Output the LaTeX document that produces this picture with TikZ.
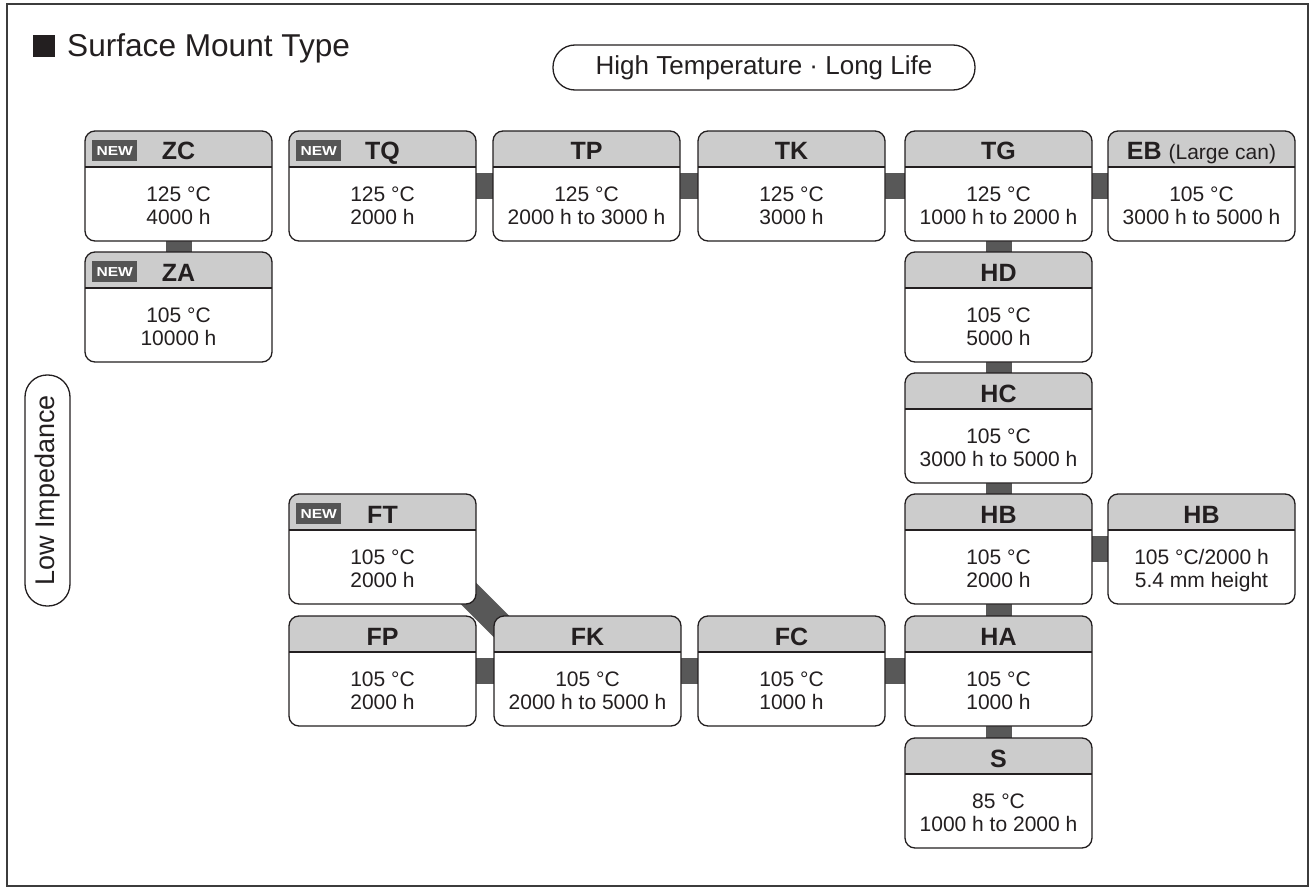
\documentclass[tikz,border=0pt]{standalone}
\usepackage{graphicx}
\usepackage{fontspec}
\setmainfont{Liberation Sans}
\usetikzlibrary{backgrounds,calc}
\definecolor{txt}{RGB}{35,31,32}
\definecolor{hdr}{RGB}{204,204,204}
\definecolor{conc}{RGB}{88,88,88}
\definecolor{badge}{RGB}{85,85,85}
\definecolor{frm}{RGB}{60,60,60}
\tikzset{
 cbox/.style={rectangle, minimum width=187pt, minimum height=110pt, inner sep=0pt, outer sep=0pt, fill=white, rounded corners=10pt},
 bord/.style={draw=txt, line width=1.3pt, rounded corners=10pt},
 ttl/.style={font=\fontsize{25}{30}\selectfont\bfseries, text=txt, inner sep=0pt},
 bod/.style={font=\fontsize{21}{24}\selectfont, text=txt, inner sep=0pt},
 newb/.style={fill=badge, text=white, font=\fontsize{13}{14}\selectfont\bfseries, minimum width=45pt, minimum height=21pt, inner sep=0pt},
 conn/.style={draw=conc, line width=26pt},
 pill/.style={draw=txt, line width=1.3pt, rounded corners=22pt, text=txt, inner sep=0pt},
}
\newcommand{\mkbox}[7]{%
 \node[cbox] (#1) at ({#2+93.5},{#3+55}) {};
 \begin{scope}
 \clip[rounded corners=10pt] (#1.north west) rectangle (#1.south east);
 \fill[hdr] (#1.north west) rectangle ([yshift=-36pt]#1.north east);
 \end{scope}
 \draw[txt, line width=1.3pt] ([yshift=-36pt]#1.north west) -- ([yshift=-36pt]#1.north east);
 \draw[bord] (#1.north west) rectangle (#1.south east);
 \node[ttl, anchor=base] (#1-t) at ({#2+93.5},{#3+29}) {#4};
 \node[bod, anchor=base] (#1-a) at ({#2+93.5},{#3+70}) {#5};
 \node[bod, anchor=base] (#1-b) at ({#2+93.5},{#3+93}) {#6};
 \ifnum#7=1 \node[newb, anchor=north west] (#1-n) at ({#2+7},{#3+9}) {\scalebox{1.2}[1]{NEW}};\fi
}
\begin{document}
\begin{tikzpicture}[x=1pt, y=-1pt]
\useasboundingbox (0,0) rectangle (1315,888);
\draw[frm, line width=2pt] (7,4) rectangle (1308,886);
% title
\node[fill=txt, minimum size=22pt, inner sep=0pt] (sq) at (44,46) {};
\node[font=\fontsize{31.6}{36}\selectfont, text=txt, anchor=base west, inner sep=0pt] (title) at (67,57) {Surface Mount Type};
\node[pill, minimum width=422pt, minimum height=45pt, font=\fontsize{26}{30}\selectfont] (htl) at (764,67.5) {High Temperature · Long Life};
\node[pill, rotate=90, minimum width=231pt, minimum height=45pt, font=\fontsize{27}{30}\selectfont] (li) at (47.5,490.5) {Low Impedance};
% boxes
\mkbox{ZC}{85}{131}{ZC}{125 °C}{4000 h}{1}
\mkbox{ZA}{85}{252}{ZA}{105 °C}{10000 h}{1}
\mkbox{TQ}{289}{131}{TQ}{125 °C}{2000 h}{1}
\mkbox{TP}{493}{131}{TP}{125 °C}{2000 h to 3000 h}{0}
\mkbox{TK}{698}{131}{TK}{125 °C}{3000 h}{0}
\mkbox{TG}{905}{131}{TG}{125 °C}{1000 h to 2000 h}{0}
\mkbox{EB}{1108}{131}{EB {\mdseries\fontsize{21}{24}\selectfont (Large can)}}{105 °C}{3000 h to 5000 h}{0}
\mkbox{HD}{905}{252}{HD}{105 °C}{5000 h}{0}
\mkbox{HC}{905}{373}{HC}{105 °C}{3000 h to 5000 h}{0}
\mkbox{HB}{905}{494}{HB}{105 °C}{2000 h}{0}
\mkbox{HBb}{1108}{494}{HB}{105 °C/2000 h}{5.4 mm height}{0}
\mkbox{FT}{289}{494}{FT}{105 °C}{2000 h}{1}
\mkbox{HA}{905}{616}{HA}{105 °C}{1000 h}{0}
\mkbox{FP}{289}{616}{FP}{105 °C}{2000 h}{0}
\mkbox{FK}{494}{616}{FK}{105 °C}{2000 h to 5000 h}{0}
\mkbox{FC}{698}{616}{FC}{105 °C}{1000 h}{0}
\mkbox{S}{905}{738}{S}{85 °C}{1000 h to 2000 h}{0}
% connectors
\begin{scope}[on background layer]
\draw[conn] (ZC) -- (ZA);
\draw[conn] (TQ) -- (TP);
\draw[conn] (TP) -- (TK);
\draw[conn] (TK) -- (TG);
\draw[conn] (TG) -- (EB);
\draw[conn] (TG) -- (HD);
\draw[conn] (HD) -- (HC);
\draw[conn] (HC) -- (HB);
\draw[conn] (HB) -- (HBb);
\draw[conn] (HB) -- (HA);
\draw[conn] (HA) -- (S);
\draw[conn] (FC) -- (HA);
\draw[conn] (FK) -- (FC);
\draw[conn] (FP) -- (FK);
\draw[conn] ($(FT.south east)+(-31,-34)$) -- ($(FK.north west)+(31,34)$);
\end{scope}
\end{tikzpicture}
\end{document}
